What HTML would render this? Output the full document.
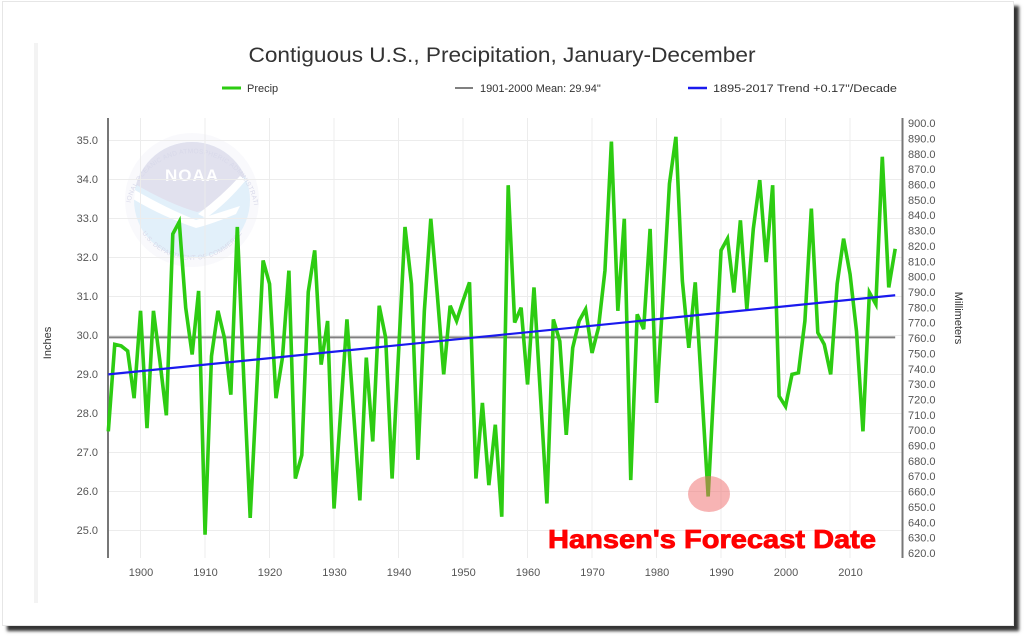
<!DOCTYPE html>
<html>
<head>
<meta charset="utf-8">
<style>
  html,body{margin:0;padding:0;background:#fff;}
  body{width:1024px;height:636px;position:relative;overflow:hidden;font-family:"Liberation Sans",Arial,sans-serif;}
  .card{position:absolute;left:2px;top:1px;width:1010px;height:623px;background:#fff;border:1px solid #e6e6e6;box-shadow:5px 5px 3px rgba(0,0,0,0.8);}
  svg{position:absolute;left:0;top:0;}
</style>
</head>
<body>
<div class="card"></div>
<svg width="1024" height="636" viewBox="0 0 1024 636" xmlns="http://www.w3.org/2000/svg" font-family="Liberation Sans, Arial, sans-serif">
  <!-- faint container edge -->
  <rect x="34" y="43" width="4" height="560" fill="#f3f3f3"/>

  <!-- NOAA watermark -->
  <defs>
    <clipPath id="disc"><circle cx="192" cy="200" r="58"/></clipPath>
    <path id="ringTop" d="M 130,205 A 63,63 0 0 1 254,205"/>
    <path id="ringBot" d="M 138,226 A 60,60 0 0 0 246,226"/>
  </defs>
  <g opacity="0.85">
    <circle cx="192" cy="200" r="67" fill="#f8f8fc"/>
    <circle cx="192" cy="200" r="58" fill="#ddeefa"/>
    <g clip-path="url(#disc)">
      <path d="M120,130 L265,130 L265,166 Q240,176 224,194 Q208,210 197,212 Q168,204 128,180 Z" fill="#dcdcec"/>
      <path d="M128,186 Q165,208 196,220 Q215,214 240,206 L236,214 Q212,224 196,228 Q160,216 128,196 Z" fill="#ffffff"/>
      <path d="M198,214 Q222,196 240,176 L246,180 Q226,204 206,218 Z" fill="#ffffff"/>
    </g>
    <text x="192" y="181" text-anchor="middle" font-size="17" font-weight="bold" fill="#ffffff" letter-spacing="1">NOAA</text>
    <text font-size="6.5" fill="#d2d3e6" letter-spacing="0.3"><textPath href="#ringTop" startOffset="50%" text-anchor="middle">NATIONAL OCEANIC AND ATMOSPHERIC ADMINISTRATION</textPath></text>
    <text font-size="6.5" fill="#d2d3e6" letter-spacing="0.3"><textPath href="#ringBot" startOffset="50%" text-anchor="middle">U.S. DEPARTMENT OF COMMERCE</textPath></text>
  </g>

  <!-- title -->
  <text x="502" y="62" text-anchor="middle" font-size="21" fill="#333" textLength="507" lengthAdjust="spacingAndGlyphs">Contiguous U.S., Precipitation, January-December</text>

  <!-- legend -->
  <g font-size="11" fill="#333">
    <line x1="222" y1="88" x2="241" y2="88" stroke="#2dcc12" stroke-width="3"/>
    <text x="247" y="92">Precip</text>
    <line x1="455" y1="88" x2="473" y2="88" stroke="#808080" stroke-width="2"/>
    <text x="480" y="92">1901-2000 Mean: 29.94"</text>
    <line x1="688" y1="88" x2="707" y2="88" stroke="#1a1aee" stroke-width="2.5"/>
    <text x="713" y="92" textLength="184" lengthAdjust="spacingAndGlyphs">1895-2017 Trend +0.17"/Decade</text>
  </g>

  <!-- grid -->
  <g stroke="#ececec" stroke-width="1">
    <line x1="108" y1="140.5" x2="902" y2="140.5"/>
    <line x1="108" y1="179.5" x2="902" y2="179.5"/>
    <line x1="108" y1="218.5" x2="902" y2="218.5"/>
    <line x1="108" y1="257.5" x2="902" y2="257.5"/>
    <line x1="108" y1="296.5" x2="902" y2="296.5"/>
    <line x1="108" y1="335.5" x2="902" y2="335.5"/>
    <line x1="108" y1="374.5" x2="902" y2="374.5"/>
    <line x1="108" y1="413.5" x2="902" y2="413.5"/>
    <line x1="108" y1="452.5" x2="902" y2="452.5"/>
    <line x1="108" y1="491.5" x2="902" y2="491.5"/>
    <line x1="108" y1="530.5" x2="902" y2="530.5"/>
    <line x1="140.5" y1="118" x2="140.5" y2="558"/>
    <line x1="205" y1="118" x2="205" y2="558"/>
    <line x1="269.5" y1="118" x2="269.5" y2="558"/>
    <line x1="334" y1="118" x2="334" y2="558"/>
    <line x1="398.5" y1="118" x2="398.5" y2="558"/>
    <line x1="463" y1="118" x2="463" y2="558"/>
    <line x1="527.5" y1="118" x2="527.5" y2="558"/>
    <line x1="592" y1="118" x2="592" y2="558"/>
    <line x1="656.5" y1="118" x2="656.5" y2="558"/>
    <line x1="721" y1="118" x2="721" y2="558"/>
    <line x1="785.5" y1="118" x2="785.5" y2="558"/>
    <line x1="850" y1="118" x2="850" y2="558"/>
  </g>

  <!-- axes -->
  <line x1="108" y1="118" x2="108" y2="558" stroke="#777" stroke-width="2"/>
  <line x1="902.5" y1="118" x2="902.5" y2="558" stroke="#777" stroke-width="2"/>

  <!-- left labels -->
  <g font-size="11" fill="#555" text-anchor="end">
    <text x="98" y="144">35.0</text>
    <text x="98" y="183">34.0</text>
    <text x="98" y="222">33.0</text>
    <text x="98" y="261">32.0</text>
    <text x="98" y="300">31.0</text>
    <text x="98" y="339">30.0</text>
    <text x="98" y="378">29.0</text>
    <text x="98" y="417">28.0</text>
    <text x="98" y="456">27.0</text>
    <text x="98" y="495">26.0</text>
    <text x="98" y="534">25.0</text>
  </g>
  <text transform="translate(51,343) rotate(-90)" text-anchor="middle" font-size="11" fill="#333">Inches</text>

  <!-- right labels -->
  <g font-size="11" fill="#555">
    <text x="908" y="127">900.0</text>
    <text x="908" y="142.5">890.0</text>
    <text x="908" y="157.8">880.0</text>
    <text x="908" y="173.2">870.0</text>
    <text x="908" y="188.5">860.0</text>
    <text x="908" y="203.9">850.0</text>
    <text x="908" y="219.2">840.0</text>
    <text x="908" y="234.6">830.0</text>
    <text x="908" y="249.9">820.0</text>
    <text x="908" y="265.3">810.0</text>
    <text x="908" y="280.7">800.0</text>
    <text x="908" y="296">790.0</text>
    <text x="908" y="311.4">780.0</text>
    <text x="908" y="326.7">770.0</text>
    <text x="908" y="342.1">760.0</text>
    <text x="908" y="357.4">750.0</text>
    <text x="908" y="372.8">740.0</text>
    <text x="908" y="388.1">730.0</text>
    <text x="908" y="403.5">720.0</text>
    <text x="908" y="418.8">710.0</text>
    <text x="908" y="434.2">700.0</text>
    <text x="908" y="449.5">690.0</text>
    <text x="908" y="464.9">680.0</text>
    <text x="908" y="480.2">670.0</text>
    <text x="908" y="495.6">660.0</text>
    <text x="908" y="511">650.0</text>
    <text x="908" y="526.3">640.0</text>
    <text x="908" y="541.7">630.0</text>
    <text x="908" y="557">620.0</text>
  </g>
  <text transform="translate(955,318) rotate(90)" text-anchor="middle" font-size="11" fill="#333">Millimeters</text>

  <!-- x labels -->
  <g font-size="11" fill="#555" text-anchor="middle">
    <text x="141" y="576">1900</text>
    <text x="205.5" y="576">1910</text>
    <text x="270" y="576">1920</text>
    <text x="334.5" y="576">1930</text>
    <text x="399" y="576">1940</text>
    <text x="463.5" y="576">1950</text>
    <text x="528" y="576">1960</text>
    <text x="592.5" y="576">1970</text>
    <text x="657" y="576">1980</text>
    <text x="721.5" y="576">1990</text>
    <text x="786" y="576">2000</text>
    <text x="850.5" y="576">2010</text>
  </g>

  <!-- series (data coords: x = year-1895, y = inches) -->
  <g transform="matrix(6.45 0 0 -39 108.3 1505)" fill="none">
    <polyline vector-effect="non-scaling-stroke" stroke="#808080" stroke-width="2" points="0,29.94 122,29.94"/>
    <polyline vector-effect="non-scaling-stroke" stroke="#2dcc12" stroke-width="3.6" stroke-linejoin="miter" points="0,27.53 1,29.76 2,29.72 3,29.59 4,28.38 5,30.62 6,27.61 7,30.62 8,29.33 9,27.94 10,32.59 11,32.9 12,30.7 13,29.5 14,31.13 15,24.88 16,29.46 17,30.62 18,29.93 19,28.47 20,32.77 21,28.9 22,25.31 23,28.6 24,31.91 25,31.31 26,28.38 27,29.42 28,31.65 29,26.32 30,26.92 31,31.1 32,32.17 33,29.24 34,30.36 35,25.55 36,27.98 37,30.4 38,28.08 39,25.76 40,29.42 41,27.27 42,30.75 43,29.93 44,26.32 45,29.54 46,32.77 47,31.31 48,26.8 49,30.62 50,32.98 51,31.05 52,28.99 53,30.75 54,30.36 55,30.88 56,31.35 57,26.32 58,28.26 59,26.15 60,27.7 61,25.34 62,33.84 63,30.32 64,30.7 65,28.73 66,31.22 67,28.45 68,25.68 69,30.4 70,29.84 71,27.44 72,29.67 73,30.36 74,30.66 75,29.54 76,30.19 77,31.65 78,34.96 79,30.62 80,32.98 81,26.28 82,30.53 83,30.15 84,32.72 85,28.26 86,31.0 87,33.88 88,35.08 89,31.39 90,29.67 91,31.35 92,28.6 93,25.86 94,29.03 95,32.17 96,32.47 97,31.09 98,32.94 99,30.66 100,32.72 101,33.97 102,31.87 103,33.84 104,28.43 105,28.17 106,28.99 107,29.03 108,30.36 109,33.24 110,30.06 111,29.76 112,28.99 113,31.31 114,32.47 115,31.56 116,30.1 117,27.53 118,31.09 119,30.79 120,34.57 121,31.22 122,32.21"/>
    <polyline vector-effect="non-scaling-stroke" stroke="#1a1aee" stroke-width="2.2" points="0,28.99 122,31.02"/>
  </g>

  <!-- annotation -->
  <ellipse cx="709" cy="494" rx="21" ry="18" fill="#f06a6a" fill-opacity="0.5"/>
  <text x="548" y="548" font-size="26" font-weight="bold" fill="#ff0000" stroke="#ff0000" stroke-width="0.8" textLength="328" lengthAdjust="spacingAndGlyphs">Hansen's Forecast Date</text>
</svg>
</body>
</html>
